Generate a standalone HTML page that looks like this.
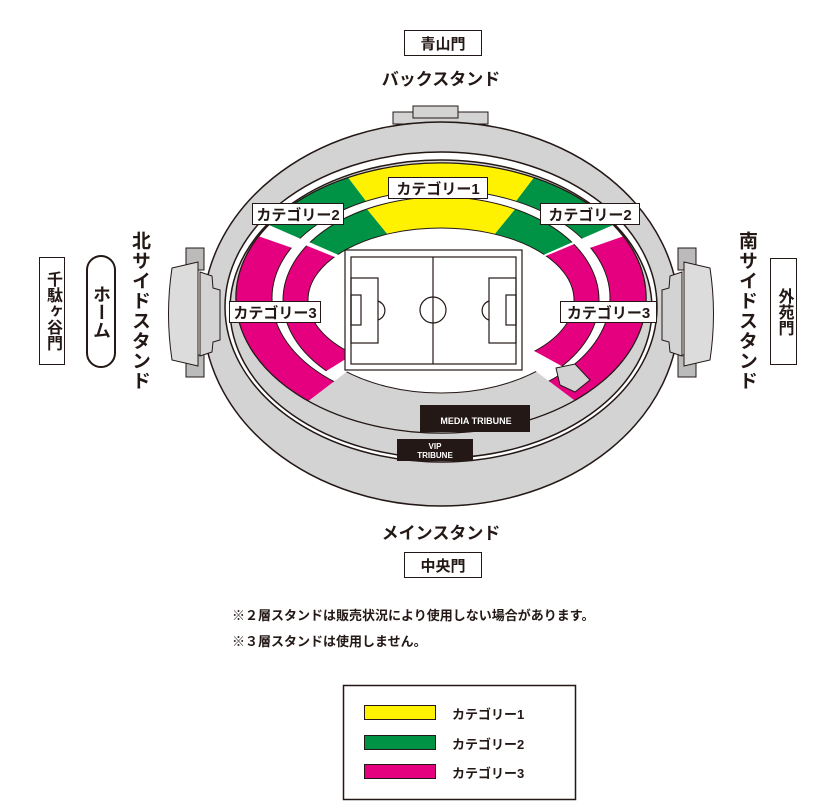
<!DOCTYPE html>
<html><head><meta charset="utf-8"><style>
body{margin:0;background:#fff;}
#w{position:relative;width:834px;height:807px;overflow:hidden;font-family:"Liberation Sans","Noto Sans CJK JP",sans-serif;}
.a{position:absolute;}
.v{writing-mode:vertical-rl;text-orientation:upright;font-weight:bold;}
.box{position:absolute;border:1.5px solid #231815;background:#fff;box-sizing:border-box;display:flex;align-items:center;justify-content:center;font-weight:bold;color:#231815;}
.t{position:absolute;font-weight:bold;color:#231815;text-align:center;}
</style></head><body><div id="w">
<svg class="a" style="left:0;top:0" width="834" height="807" viewBox="0 0 834 807">
<defs>
<clipPath id="cyo"><polygon points="441,300 129,-111 753,-111"/></clipPath>
<clipPath id="cgoL"><polygon points="441,300 -96,66 129,-111"/></clipPath>
<clipPath id="cgoR"><polygon points="441,300 978,66 753,-111"/></clipPath>
<clipPath id="cpoL"><polygon points="441,300 -117,105 -400,300 -12,645"/></clipPath>
<clipPath id="cpoR"><polygon points="441,300 999,105 1282,300 920,660"/></clipPath>
<clipPath id="cyi"><polygon points="441,300 189,-9 693,-9"/></clipPath>
<clipPath id="cgiL"><polygon points="441,300 18,114 189,-9"/></clipPath>
<clipPath id="cgiR"><polygon points="441,300 864,114 693,-9"/></clipPath>
<clipPath id="cpiL"><polygon points="441,300 33,135 -300,300 63,534"/></clipPath>
<clipPath id="cpiR"><polygon points="441,300 810,145 1200,300 843,520"/></clipPath>
<clipPath id="cbot"><polygon points="441,300 -12,645 920,660"/></clipPath>
</defs>
<rect x="393" y="112" width="95" height="12" fill="#d3d3d3" stroke="#231815"/>
<rect x="413" y="106" width="45" height="12" fill="#d3d3d3" stroke="#231815"/>
<g fill="#dcdcdc" stroke="#231815" stroke-width="1">
<rect x="186" y="248" width="18" height="22" fill="#bbb"/>
<rect x="186" y="355" width="18" height="22" fill="#bbb"/>
<path d="M172,268 L198,262 L198,366 L172,360 Q165,314 172,268Z"/>
<rect x="678" y="248" width="18" height="22" fill="#bbb"/>
<rect x="678" y="355" width="18" height="22" fill="#bbb"/>
<path d="M710,268 L684,262 L684,366 L710,360 Q717,314 710,268Z"/>
</g>
<ellipse cx="441" cy="314" rx="238" ry="192" fill="#d3d3d3" stroke="#231815" stroke-width="1.5"/>
<path d="M200,272 L212,276 L213,288 L220,290 L220,340 L213,342 L212,352 L200,356Z" fill="#d3d3d3" stroke="#231815"/>
<path d="M682,272 L670,276 L669,288 L662,290 L662,340 L669,342 L670,352 L682,356Z" fill="#d3d3d3" stroke="#231815"/>
<ellipse cx="441" cy="307" rx="216" ry="155" fill="#fff" stroke="#231815" stroke-width="1.5"/>
<ellipse cx="441" cy="309" rx="211" ry="149" fill="#d3d3d3" stroke="#231815" stroke-width="1.5"/>
<ellipse cx="441" cy="298" rx="205" ry="135" fill="#fff" stroke="#231815" stroke-width="1.5"/>
<path d="M236,298 a205,135 0 1,0 410,0 a205,135 0 1,0 -410,0 M291,298 a150,95 0 1,0 300,0 a150,95 0 1,0 -300,0" fill="#d3d3d3" fill-rule="evenodd" stroke="#231815" clip-path="url(#cbot)"/>
<g fill-rule="evenodd" stroke="#231815" stroke-width="1">
<path d="M236,298 a205,135 0 1,0 410,0 a205,135 0 1,0 -410,0 M272,298 a169,108 0 1,0 338,0 a169,108 0 1,0 -338,0" fill="#fff200" clip-path="url(#cyo)"/>
<path d="M236,298 a205,135 0 1,0 410,0 a205,135 0 1,0 -410,0 M272,298 a169,108 0 1,0 338,0 a169,108 0 1,0 -338,0" fill="#009245" clip-path="url(#cgoL)"/>
<path d="M236,298 a205,135 0 1,0 410,0 a205,135 0 1,0 -410,0 M272,298 a169,108 0 1,0 338,0 a169,108 0 1,0 -338,0" fill="#009245" clip-path="url(#cgoR)"/>
<path d="M236,298 a205,135 0 1,0 410,0 a205,135 0 1,0 -410,0 M272,298 a169,108 0 1,0 338,0 a169,108 0 1,0 -338,0" fill="#e4007f" clip-path="url(#cpoL)"/>
<path d="M236,298 a205,135 0 1,0 410,0 a205,135 0 1,0 -410,0 M272,298 a169,108 0 1,0 338,0 a169,108 0 1,0 -338,0" fill="#e4007f" clip-path="url(#cpoR)"/>
<path d="M283,300 a158,103 0 1,0 316,0 a158,103 0 1,0 -316,0 M308,300 a133,72 0 1,0 266,0 a133,72 0 1,0 -266,0" fill="#fff200" clip-path="url(#cyi)"/>
<path d="M283,300 a158,103 0 1,0 316,0 a158,103 0 1,0 -316,0 M308,300 a133,72 0 1,0 266,0 a133,72 0 1,0 -266,0" fill="#009245" clip-path="url(#cgiL)"/>
<path d="M283,300 a158,103 0 1,0 316,0 a158,103 0 1,0 -316,0 M308,300 a133,72 0 1,0 266,0 a133,72 0 1,0 -266,0" fill="#009245" clip-path="url(#cgiR)"/>
<path d="M283,300 a158,103 0 1,0 316,0 a158,103 0 1,0 -316,0 M308,300 a133,72 0 1,0 266,0 a133,72 0 1,0 -266,0" fill="#e4007f" clip-path="url(#cpiL)"/>
<path d="M283,300 a158,103 0 1,0 316,0 a158,103 0 1,0 -316,0 M308,300 a133,72 0 1,0 266,0 a133,72 0 1,0 -266,0" fill="#e4007f" clip-path="url(#cpiR)"/>
</g>
<path d="M556,368 L575,364 L590,380 L575,392 L560,385Z" fill="#d3d3d3" stroke="#231815"/>
<rect x="420" y="405" width="110" height="27" fill="#231815"/>
<rect x="397" y="439" width="76" height="22" fill="#231815"/>
<text x="476" y="424" font-size="9" font-weight="bold" fill="#fff" text-anchor="middle" font-family="Liberation Sans, sans-serif">MEDIA TRIBUNE</text>
<text x="435" y="449" font-size="8" font-weight="bold" fill="#fff" text-anchor="middle" font-family="Liberation Sans, sans-serif">VIP</text>
<text x="435" y="458" font-size="8" font-weight="bold" fill="#fff" text-anchor="middle" font-family="Liberation Sans, sans-serif">TRIBUNE</text>
<g fill="none" stroke="#231815" stroke-width="1.2">
<rect x="345" y="250" width="177" height="120" fill="#fff"/>
<rect x="351" y="257" width="165" height="107"/>
<line x1="433" y1="257" x2="433" y2="364"/>
<circle cx="433" cy="310" r="13"/>
<rect x="351" y="278" width="27" height="65"/>
<rect x="351" y="295" width="10" height="30"/>
<rect x="489" y="278" width="27" height="65"/>
<rect x="506" y="295" width="10" height="30"/>
<path d="M378,301 A10,10 0 0,1 378,320"/>
<path d="M489,301 A10,10 0 0,0 489,320"/>
</g>
<rect x="343.5" y="685.5" width="232" height="114" fill="#fff" stroke="#231815" stroke-width="1.5"/>
<rect x="364.5" y="705.5" width="71" height="14" fill="#fff200" stroke="#231815"/>
<rect x="364.5" y="735.5" width="71" height="14" fill="#009245" stroke="#231815"/>
<rect x="364.5" y="764.5" width="71" height="14" fill="#e4007f" stroke="#231815"/>
</svg>
<div class="box" style="left:404px;top:30px;width:78px;height:26px;font-size:15px;">青山門</div>
<div class="t" style="left:341px;top:65px;width:200px;font-size:17px;">バックスタンド</div>
<div class="t" style="left:341px;top:519px;width:200px;font-size:17px;">メインスタンド</div>
<div class="box" style="left:404px;top:552px;width:78px;height:26px;font-size:15px;">中央門</div>
<div class="box v" style="left:39px;top:257px;width:26px;height:108px;font-size:16px;line-height:24px;">千駄ヶ谷門</div>
<div class="box v" style="left:86px;top:255px;width:30px;height:113px;border-radius:15px;font-size:18px;border-width:2px;">ホーム</div>
<div class="a v" style="left:127px;top:231px;font-size:19px;line-height:24px;letter-spacing:1px;color:#231815;">北サイドスタンド</div>
<div class="a v" style="left:734px;top:231px;font-size:19px;line-height:24px;letter-spacing:1px;color:#231815;">南サイドスタンド</div>
<div class="box v" style="left:770px;top:258px;width:27px;height:107px;font-size:16px;line-height:24px;">外苑門</div>
<div class="box" style="left:388px;top:177px;width:100px;height:22px;font-size:15px;">カテゴリー1</div>
<div class="box" style="left:252px;top:203px;width:92px;height:22px;font-size:15px;">カテゴリー2</div>
<div class="box" style="left:540px;top:203px;width:100px;height:22px;font-size:15px;">カテゴリー2</div>
<div class="box" style="left:229px;top:301px;width:92px;height:22px;font-size:15px;">カテゴリー3</div>
<div class="box" style="left:560px;top:301px;width:97px;height:22px;font-size:15px;">カテゴリー3</div>
<div class="t" style="left:232px;top:605px;font-size:13px;text-align:left;">※２層スタンドは販売状況により使用しない場合があります。</div>
<div class="t" style="left:232px;top:631px;font-size:13px;text-align:left;">※３層スタンドは使用しません。</div>
<div class="t" style="left:452px;top:704px;font-size:13px;text-align:left;">カテゴリー1</div>
<div class="t" style="left:452px;top:734px;font-size:13px;text-align:left;">カテゴリー2</div>
<div class="t" style="left:452px;top:763px;font-size:13px;text-align:left;">カテゴリー3</div>
</div></body></html>
